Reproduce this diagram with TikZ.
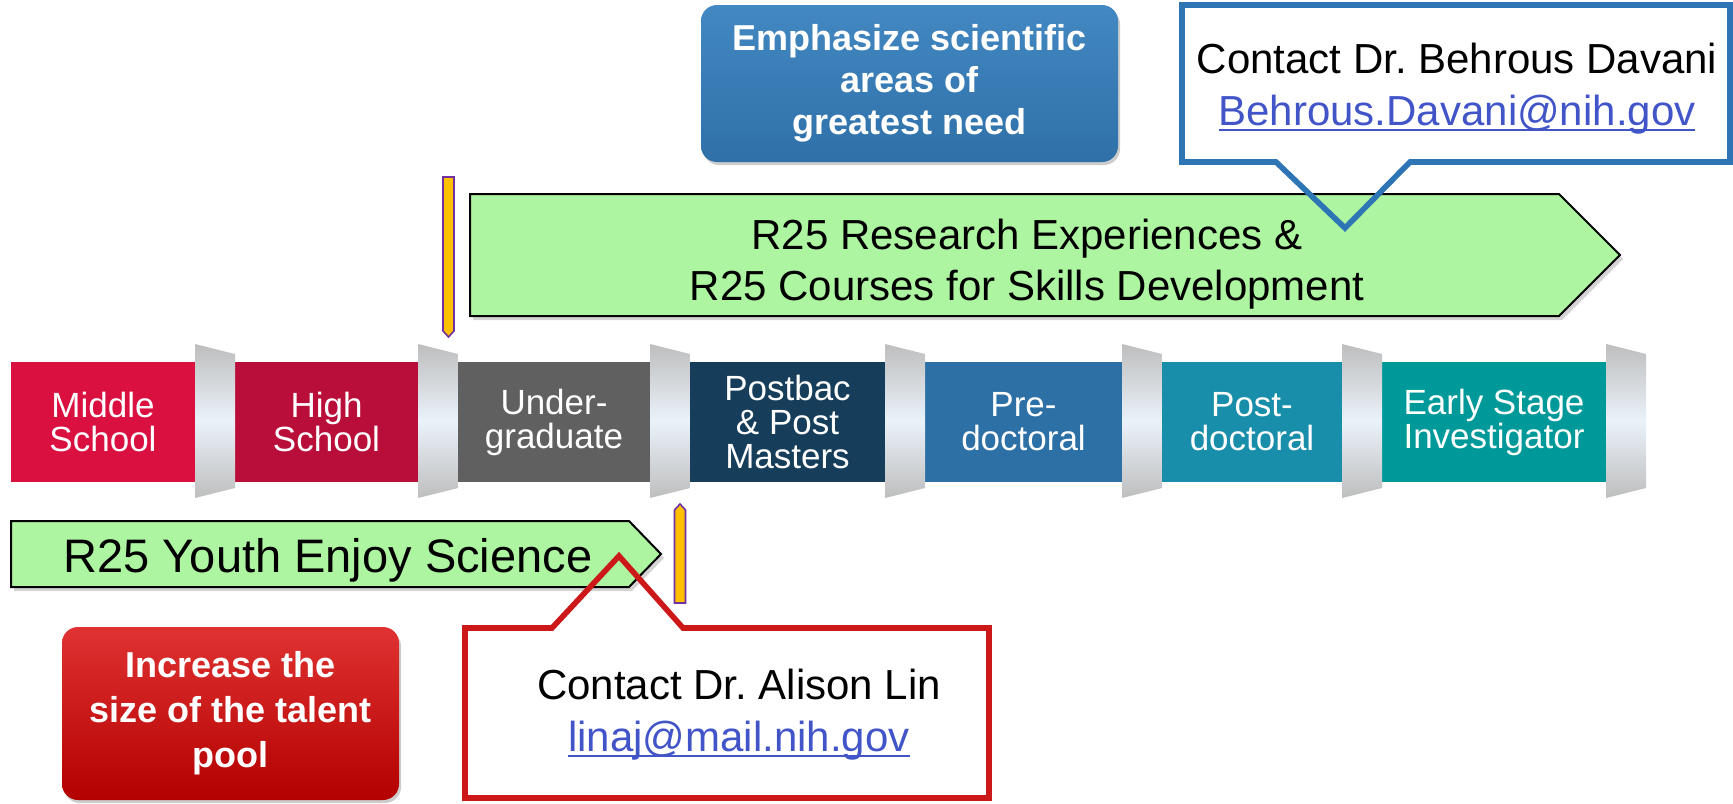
\documentclass[tikz,border=0pt]{standalone}
\usepackage{fontspec}
\setmainfont{Liberation Sans}
\usetikzlibrary{positioning,shadows}
\frenchspacing
\definecolor{msred}{HTML}{D91040}
\definecolor{hsred}{HTML}{BA0E3A}
\definecolor{uggray}{HTML}{606060}
\definecolor{pbnavy}{HTML}{163E5A}
\definecolor{prblue}{HTML}{2C70A6}
\definecolor{poteal}{HTML}{198EAA}
\definecolor{esteal}{HTML}{009999}
\definecolor{jointgray}{HTML}{BEBEBE}
\definecolor{jointlight}{HTML}{EAF2FA}
\definecolor{arrowgreen}{HTML}{ADF5A0}
\definecolor{markgold}{HTML}{FFC000}
\definecolor{markpurple}{HTML}{7030A0}
\definecolor{callblue}{HTML}{2E75B6}
\definecolor{callred}{HTML}{CC1818}
\definecolor{linkblue}{HTML}{4154C8}
\definecolor{emphtop}{HTML}{4388C2}
\definecolor{emphbot}{HTML}{2F70A8}
\definecolor{talenttop}{HTML}{E03232}
\definecolor{talentbot}{HTML}{B30000}
\tikzset{
    stage/.style={minimum width=#1, minimum height=60pt, inner sep=0pt, outer sep=0pt,
        text=white, align=center, font=\fontsize{17.5}{17}\selectfont},
    joint/.style={top color=jointgray, bottom color=jointgray, middle color=jointlight},
    arrowbox/.style={draw=black, line width=1pt, fill=arrowgreen, line join=miter,
        drop shadow={opacity=0.35, shadow xshift=1.5pt, shadow yshift=-2pt}},
    arrowtext/.style={align=center, inner sep=0pt, font=\fontsize{21}{25.5}\selectfont},
    marker/.style={draw=markpurple, line width=0.8pt, fill=markgold},
    bubble/.style={line width=2.8pt, line join=miter},
    calltext/.style={align=center, inner sep=0pt, font=\fontsize{21}{26}\selectfont},
    goalbox/.style={rounded corners=8pt, text=white, align=center, inner sep=0pt,
        font=\bfseries\fontsize{18}{21}\selectfont,
        drop shadow={opacity=0.4, shadow xshift=1pt, shadow yshift=-1.5pt}}
}
\newcommand{\joint}[1]{\shade[joint] (#1.east) ++(0,-78) -- ++(40,10) -- ++(0,134) -- ++(-40,10) -- cycle;}
\newcommand{\mailto}[1]{\textcolor{linkblue}{\setbox0\hbox{#1}\rlap{\rule[-2.5pt]{\wd0}{1pt}}\box0}}

\begin{document}
\begin{tikzpicture}[x=0.5pt, y=-0.5pt]
\useasboundingbox (0,0) rectangle (1733,803);

% career stages
\node[stage=92pt, fill=msred] (middle) at (103,422) {Middle\\School};
\node[stage=91.5pt, fill=hsred, right=20pt of middle] (high) {High\\School};
\node[stage=96pt, fill=uggray, right=20pt of high] (under) {Under-\\graduate};
\node[stage=97.5pt, fill=pbnavy, right=20pt of under] (postbac) {Postbac\\\& Post\\Masters};
\node[stage=98.5pt, fill=prblue, right=20pt of postbac] (predoc) {Pre-\\doctoral};
\node[stage=90pt, fill=poteal, right=20pt of predoc] (postdoc) {Post-\\doctoral};
\node[stage=112pt, fill=esteal, right=20pt of postdoc] (early) {Early Stage\\Investigator};
\joint{middle} \joint{high} \joint{under} \joint{postbac}
\joint{predoc} \joint{postdoc} \joint{early}

% programs
\draw[arrowbox] (470,194) -- (1559,194) -- (1620,255) -- (1559,316) -- (470,316) -- cycle;
\node[arrowtext] (research) at (1027,264) {R25 Research Experiences \&\\R25 Courses for Skills Development};
\draw[arrowbox] (11,521) -- (629,521) -- (661,554) -- (629,587) -- (11,587) -- cycle;
\node[arrowtext, font=\fontsize{23.5}{28}\selectfont] (youth) at (328,560) {R25 Youth Enjoy Science};

\draw[marker] (443,177) -- (454,177) -- (454,331) -- (448.5,337) -- (443,331) -- cycle;
\draw[marker] (674.5,510) -- (680,504) -- (685.5,510) -- (685.5,603) -- (674.5,603) -- cycle;

% goals
\node[goalbox, top color=emphtop, bottom color=emphbot, minimum width=208.5pt,
    minimum height=78.5pt] (emphasize) at (909.5,83.5) {Emphasize scientific\\areas of\\greatest need};
\node[goalbox, top color=talenttop, bottom color=talentbot, minimum width=168.5pt,
    minimum height=86.5pt, font=\bfseries\fontsize{18}{22.5}\selectfont] (talent) at (230.5,713.5) {Increase the\\size of the talent\\pool};

% contacts
\draw[bubble, callblue] (1182,5) -- (1730,5) -- (1730,162) -- (1410,162) -- (1345,228)
    -- (1276,162) -- (1182,162) -- cycle;
\node[calltext] (davani) at (1457,89) {Contact Dr. Behrous Davani\\\mailto{Behrous.Davani@nih.gov}};
\draw[bubble, callred] (465,628) -- (552,628) -- (619,556) -- (683,628) -- (989,628)
    -- (989,798) -- (465,798) -- cycle;
\node[calltext] (lin) at (739,715) {Contact Dr. Alison Lin\\\mailto{linaj@mail.nih.gov}};

\end{tikzpicture}
\end{document}
